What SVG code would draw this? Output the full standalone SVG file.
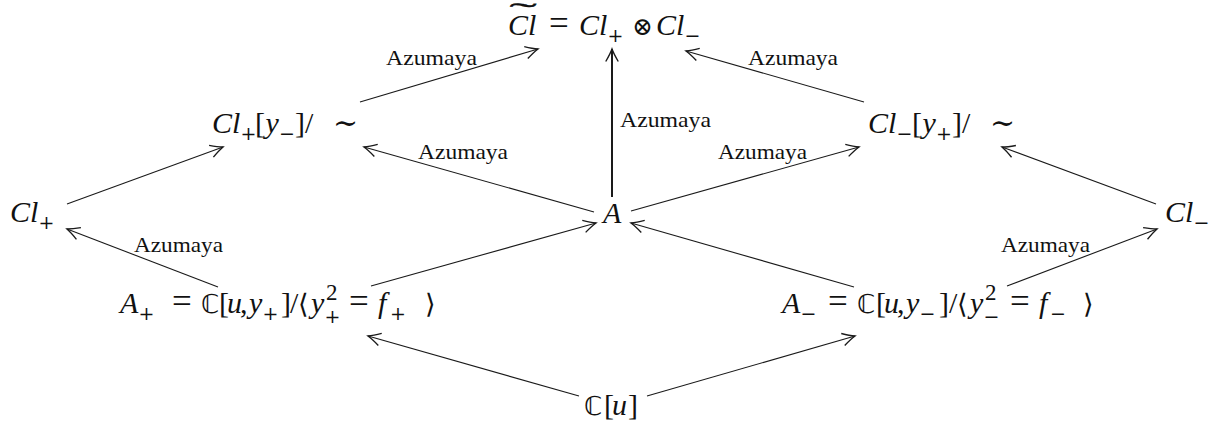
<svg xmlns="http://www.w3.org/2000/svg" width="1225" height="428" viewBox="0 0 1225 428">
<style>
  text { font-family: "Liberation Serif", "DejaVu Serif", serif; fill: #111; }
  .m { font-size: 30px; }
  .i { font-style: italic; }
  .s { font-size: 23px; }
  .pm { font-family: "DejaVu Serif", serif; font-size: 19px; }
  .eq { font-size: 35px; }
  .bb { font-family: "DejaVu Sans", "Noto Sans", sans-serif; font-size: 26px; }
  .ang { font-family: "DejaVu Sans", "Noto Sans", sans-serif; font-size: 27px; }
  .op { font-family: "DejaVu Serif", serif; }
  .lbl { font-size: 22px; }
  .edge { stroke: #1a1a1a; stroke-width: 1.1; fill: none; marker-end: url(#arr); }
  .bold { stroke-width: 2; }
</style>
<defs>
  <marker id="arr" markerUnits="userSpaceOnUse" markerWidth="20" markerHeight="20" viewBox="-12 -8 14 16" refX="0" refY="0" orient="auto">
    <path d="M-10,-5 Q-4,-1.5 0,0 Q-4,1.5 -10,5" fill="none" stroke="#1a1a1a" stroke-width="1.1"/>
  </marker>
</defs>
<rect width="1225" height="428" fill="#ffffff"/>

<g id="connectors">
  <line class="edge" x1="360" y1="102" x2="538" y2="49"/>
  <line class="edge" x1="864" y1="102" x2="686" y2="51"/>
  <line class="edge bold" x1="612" y1="197" x2="612" y2="49"/>
  <line class="edge" x1="594" y1="212" x2="364" y2="147"/>
  <line class="edge" x1="631" y1="211" x2="859" y2="147"/>
  <line class="edge" x1="67" y1="204" x2="223" y2="147"/>
  <line class="edge" x1="218" y1="287" x2="67" y2="229"/>
  <line class="edge" x1="371" y1="286" x2="596" y2="223"/>
  <line class="edge" x1="854" y1="287" x2="631" y2="223"/>
  <line class="edge" x1="1156" y1="204" x2="1002" y2="147"/>
  <line class="edge" x1="1007" y1="286" x2="1157" y2="229"/>
  <line class="edge" x1="579" y1="396" x2="368" y2="336"/>
  <line class="edge" x1="647" y1="396" x2="855" y2="336"/>
  <g class="labels">
    <text class="lbl" x="386" y="65" textLength="91" lengthAdjust="spacingAndGlyphs">Azumaya</text>
    <text class="lbl" x="748" y="65" textLength="90" lengthAdjust="spacingAndGlyphs">Azumaya</text>
    <text class="lbl" x="620" y="127" textLength="91" lengthAdjust="spacingAndGlyphs">Azumaya</text>
    <text class="lbl" x="418" y="159" textLength="90" lengthAdjust="spacingAndGlyphs">Azumaya</text>
    <text class="lbl" x="718" y="159" textLength="89" lengthAdjust="spacingAndGlyphs">Azumaya</text>
    <text class="lbl" x="134" y="252" textLength="89" lengthAdjust="spacingAndGlyphs">Azumaya</text>
    <text class="lbl" x="1001" y="252" textLength="89" lengthAdjust="spacingAndGlyphs">Azumaya</text>
  </g>
</g>

<g id="node-top">
  <text style="font-size:24px" transform="translate(523,22) scale(3.4,1.1)" text-anchor="middle" stroke="#111" stroke-width="0.25">˜</text>
  <text class="m"><tspan class="i" x="508" y="35">Cl</tspan><tspan class="eq" x="549" y="35">=</tspan><tspan class="i" x="579" y="35">Cl</tspan><tspan class="pm" x="607.5" y="42">+</tspan><tspan class="op" style="font-size:25px" x="632" y="35">⊗</tspan><tspan class="i" x="656" y="35">Cl</tspan><tspan class="pm" x="684.5" y="42">−</tspan></text>
</g>

<g id="node-clp-y">
  <text class="m"><tspan class="i" x="212" y="133">Cl</tspan><tspan class="pm" x="240.5" y="140">+</tspan><tspan x="255" y="133">[</tspan><tspan class="i" x="265.5" y="133">y</tspan><tspan class="pm" x="279" y="140">−</tspan><tspan x="295" y="133">]</tspan><tspan x="305" y="133">/</tspan><tspan class="op" x="333" y="133">∼</tspan></text>
</g>

<g id="node-clm-y">
  <text class="m"><tspan class="i" x="868" y="133">Cl</tspan><tspan class="pm" x="896.5" y="140">−</tspan><tspan x="912" y="133">[</tspan><tspan class="i" x="922.5" y="133">y</tspan><tspan class="pm" x="936" y="140">+</tspan><tspan x="952" y="133">]</tspan><tspan x="962" y="133">/</tspan><tspan class="op" x="990" y="133">∼</tspan></text>
</g>

<g id="node-clp">
  <text class="m"><tspan class="i" x="10" y="222">Cl</tspan><tspan class="pm" x="38.5" y="229">+</tspan></text>
</g>

<g id="node-clm">
  <text class="m"><tspan class="i" x="1165" y="222">Cl</tspan><tspan class="pm" x="1193.5" y="229">−</tspan></text>
</g>

<g id="node-a">
  <text class="m i" x="603" y="223">A</text>
</g>

<g id="node-ap">
  <text class="m"><tspan class="i" x="120" y="313">A</tspan><tspan class="pm" x="138.5" y="320">+</tspan><tspan class="eq" x="172" y="313">=</tspan><tspan class="bb" x="201" y="313">ℂ</tspan><tspan x="219" y="313">[</tspan><tspan class="i" x="227" y="313">u</tspan><tspan x="240" y="313">,</tspan><tspan class="i" x="249" y="313">y</tspan><tspan class="pm" x="262.5" y="320">+</tspan><tspan x="281" y="313">]</tspan><tspan x="290" y="313">/</tspan><tspan class="ang" x="298" y="313">⟨</tspan><tspan class="i" x="311" y="313">y</tspan><tspan class="s" x="326" y="300">2</tspan><tspan class="pm" x="324.5" y="323">+</tspan><tspan class="eq" x="349" y="313">=</tspan><tspan class="i" x="378" y="313">f</tspan><tspan class="pm" x="390" y="320">+</tspan><tspan class="ang" x="425" y="313">⟩</tspan></text>
</g>

<g id="node-am">
  <text class="m"><tspan class="i" x="782" y="313">A</tspan><tspan class="pm" x="800.5" y="320">−</tspan><tspan class="eq" x="828" y="313">=</tspan><tspan class="bb" x="857" y="313">ℂ</tspan><tspan x="876" y="313">[</tspan><tspan class="i" x="884" y="313">u</tspan><tspan x="897" y="313">,</tspan><tspan class="i" x="906" y="313">y</tspan><tspan class="pm" x="919.5" y="320">−</tspan><tspan x="939" y="313">]</tspan><tspan x="949" y="313">/</tspan><tspan class="ang" x="957" y="313">⟨</tspan><tspan class="i" x="970" y="313">y</tspan><tspan class="s" x="985" y="300">2</tspan><tspan class="pm" x="983.5" y="323">−</tspan><tspan class="eq" x="1010" y="313">=</tspan><tspan class="i" x="1039" y="313">f</tspan><tspan class="pm" x="1050" y="320">−</tspan><tspan class="ang" x="1083" y="313">⟩</tspan></text>
</g>

<g id="node-cu">
  <text class="m"><tspan class="bb" x="584" y="415">ℂ</tspan><tspan x="604" y="415">[</tspan><tspan class="i" x="612" y="415">u</tspan><tspan x="628" y="415">]</tspan></text>
</g>
</svg>
